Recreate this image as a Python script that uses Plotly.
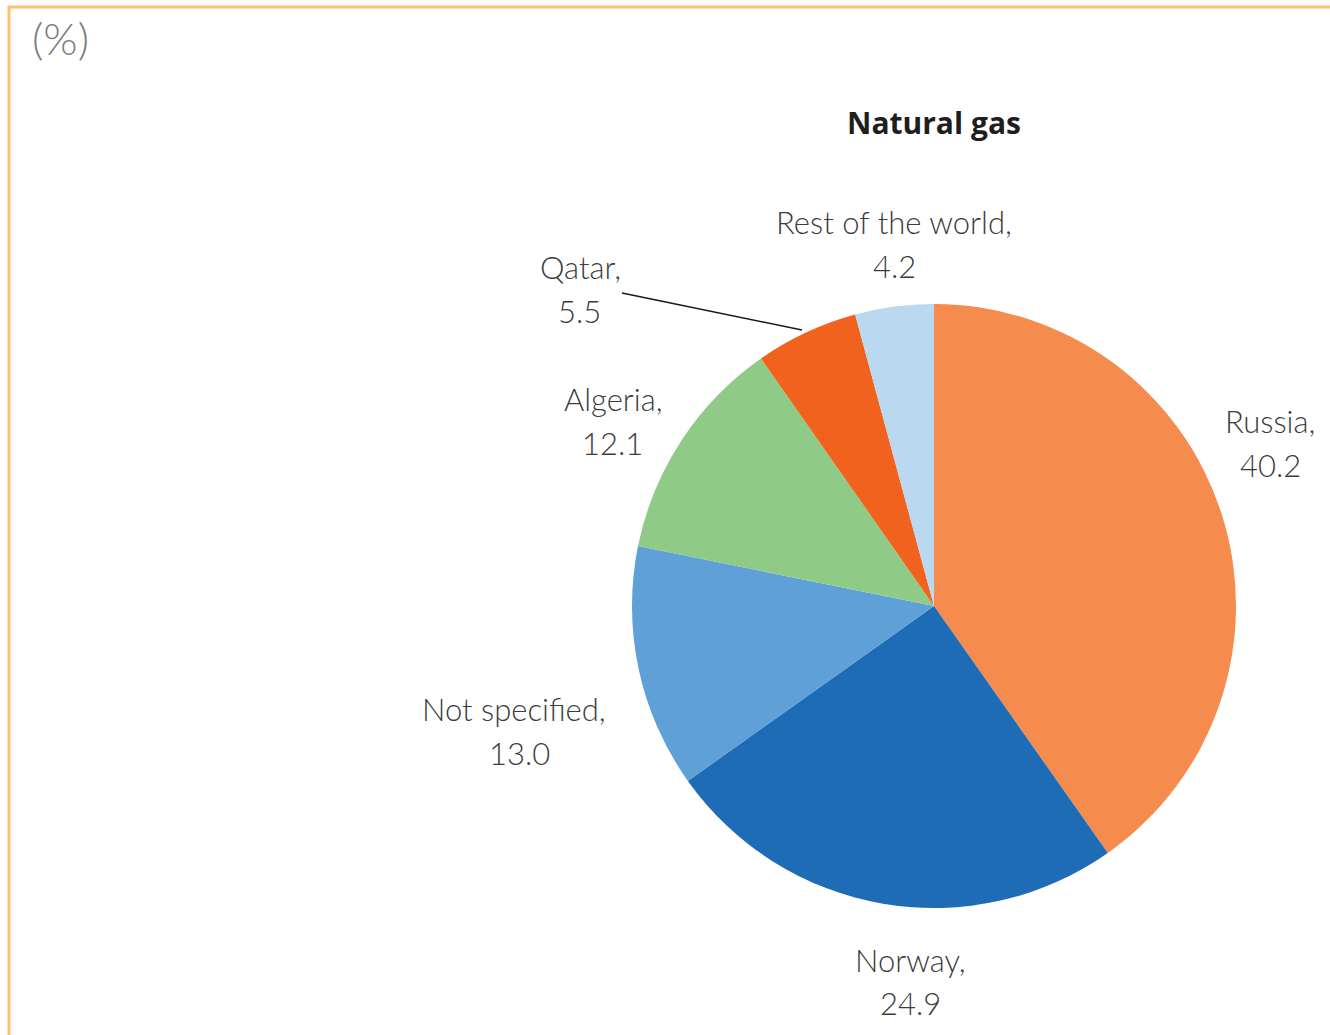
import plotly.graph_objects as go

# Data
countries = ["Russia", "Norway", "Not specified", "Algeria", "Qatar", "Rest of the world"]
shares = [40.2, 24.9, 13.0, 12.1, 5.5, 4.2]
colors = ["#F58B4C", "#1F6CB6", "#5FA0D9", "#8FCB86", "#F1621F", "#BAD8EF"]

W, H = 1330, 1035
def px(x):
    return x / W
def py(y):
    return 1 - y / H

cx, cy, r = 934, 606, 302

fig = go.Figure(go.Pie(
    labels=countries,
    values=shares,
    marker=dict(colors=colors, line=dict(width=0)),
    sort=False,
    direction="clockwise",
    rotation=0,
    textinfo="none",
    hoverinfo="label+value",
    showlegend=False,
    domain=dict(x=[px(cx - r), px(cx + r)], y=[py(cy + r), py(cy - r)]),
))

label_font = dict(family="Lato", size=31, color="#3c3c3c", weight=300)
# (x, y1, y2)
label_pos = {
    "Russia": (1270, 421, 465),
    "Norway": (911, 960, 1003),
    "Not specified": (514, 709, 753),
    "Algeria": (613, 399, 443),
    "Qatar": (580, 267, 311),
    "Rest of the world": (894, 222, 266),
}
second_x = {"Not specified": 519, "Algeria": 612, "Qatar": 579}

annotations = []
for name, val in zip(countries, shares):
    x, y1, y2 = label_pos[name]
    annotations.append(dict(text=f"{name},", x=px(x), y=py(y1), xref="paper", yref="paper",
                            showarrow=False, font=label_font, xanchor="center", yanchor="middle"))
    annotations.append(dict(text=f"{val:.1f}", x=px(second_x.get(name, x)), y=py(y2), xref="paper", yref="paper",
                            showarrow=False, font=label_font, xanchor="center", yanchor="middle"))

annotations.append(dict(text="<b>Natural gas</b>", x=px(934), y=py(122), xref="paper", yref="paper",
                        showarrow=False, font=dict(family="Open Sans", size=30, color="#1e1e1e"),
                        xanchor="center", yanchor="middle"))
annotations.append(dict(text="(%)", x=px(30), y=py(38), xref="paper", yref="paper",
                        showarrow=False, font=dict(family="Lato", size=44, color="#7c7c7c", weight=300),
                        xanchor="left", yanchor="middle"))

shapes = [
    dict(type="line", xref="paper", yref="paper", x0=px(622), y0=py(293), x1=px(802), y1=py(330),
         line=dict(color="#1a1a1a", width=1.5)),
    dict(type="line", xref="paper", yref="paper", x0=px(8), y0=py(7), x1=1.0, y1=py(7),
         line=dict(color="#FDC26F", width=3)),
    dict(type="line", xref="paper", yref="paper", x0=px(9), y0=py(6), x1=px(9), y1=0.0,
         line=dict(color="#FDC26F", width=3)),
]

fig.update_layout(
    width=W, height=H,
    margin=dict(l=0, r=0, t=0, b=0),
    paper_bgcolor="white",
    plot_bgcolor="white",
    annotations=annotations,
    shapes=shapes,
)

fig.write_html("out.html")
